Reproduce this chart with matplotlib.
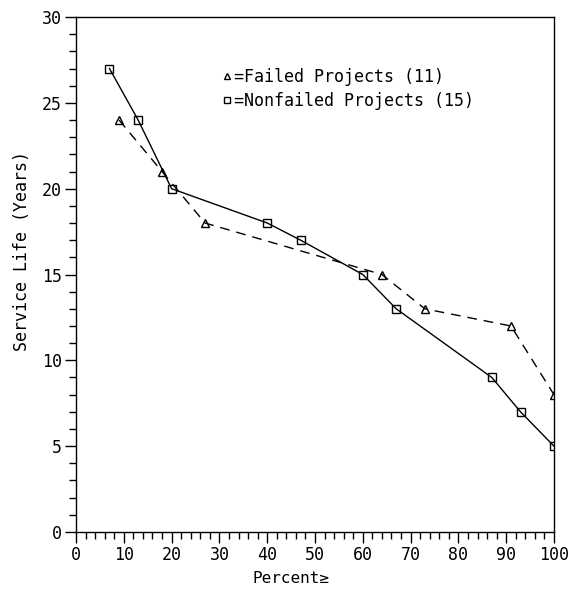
import matplotlib.pyplot as plt
from matplotlib.ticker import MultipleLocator

plt.rcParams['font.family'] = ['DejaVu Sans Mono', 'DejaVu Sans']

# failed projects (triangles, dashed)
failed_pct = [9, 18, 27, 64, 73, 91, 100]
failed_life = [24, 21, 18, 15, 13, 12, 8]

# nonfailed projects (squares, solid)
nonfailed_pct = [7, 13, 20, 40, 47, 60, 67, 87, 93, 100]
nonfailed_life = [27, 24, 20, 18, 17, 15, 13, 9, 7, 5]

fig = plt.figure(figsize=(5.81, 5.89), dpi=100)
ax = fig.add_axes([0.1308, 0.0968, 0.8227, 0.8743])

ax.plot(failed_pct, failed_life, color='black', lw=1, ls=(0, (7, 5)),
        marker='^', ms=6, mfc='none', mec='black', mew=1)
ax.plot(nonfailed_pct, nonfailed_life, color='black', lw=1,
        marker='s', ms=6, mfc='none', mec='black', mew=1)

ax.set_xlim(0, 100)
ax.set_ylim(0, 30)
ax.xaxis.set_major_locator(MultipleLocator(10))
ax.xaxis.set_minor_locator(MultipleLocator(2))
ax.yaxis.set_major_locator(MultipleLocator(5))
ax.yaxis.set_minor_locator(MultipleLocator(1))
ax.tick_params(which='both', direction='out', top=False, right=False,
               labelsize=12, width=1, pad=2)
ax.tick_params(which='major', length=8)
ax.tick_params(which='minor', length=5)
for s in ax.spines.values():
    s.set_linewidth(1)

ax.set_xlabel('Percent\u2265', fontsize=11.5)
ax.xaxis.set_label_coords(0.45, -0.076)
ax.set_ylabel('Service Life (Years)', fontsize=12)
ax.yaxis.set_label_coords(-0.095, 0.545)

# marker-only legend handles
h1 = plt.Line2D([], [], ls='none', marker='^', ms=5, mfc='none', mec='black')
h2 = plt.Line2D([], [], ls='none', marker='s', ms=5, mfc='none', mec='black')
ax.legend([h1, h2], ['=Failed Projects (11)', '=Nonfailed Projects (15)'],
          loc='upper left', bbox_to_anchor=(0.275, 0.93), frameon=False,
          handlelength=0.6, handletextpad=0.1, fontsize=12, labelspacing=0.35)

fig.savefig('out.png', dpi=100)
